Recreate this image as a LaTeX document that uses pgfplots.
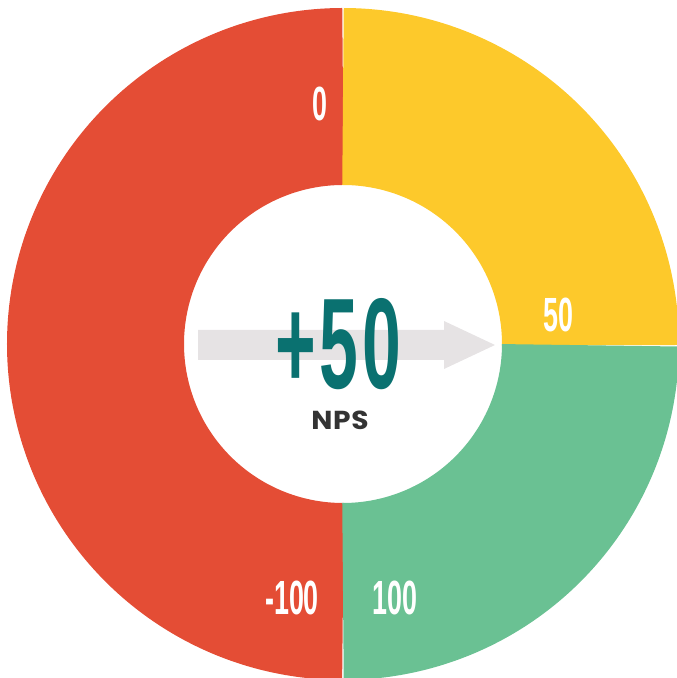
\documentclass[border=0pt]{standalone}
\usepackage{pgfplots}
\pgfplotsset{compat=1.18}
\usepackage{pgfplotstable}
\usepackage{fontspec}
\setmainfont{Liberation Sans}
\newfontfamily\condb[FakeStretch=0.56]{Liberation Sans Bold}
\newfontfamily\condbig[FakeStretch=0.54,LetterSpace=3]{Liberation Sans Bold}
\newfontfamily\npsfont[LetterSpace=3,FakeStretch=1.08]{Poppins Bold}
\definecolor{npsred}{HTML}{E44D35}
\definecolor{npsyellow}{HTML}{FDC92B}
\definecolor{npsgreen}{HTML}{6AC193}
\definecolor{npsteal}{HTML}{0A7170}
\definecolor{arrowgrey}{HTML}{E6E3E4}
\definecolor{npsdark}{HTML}{333333}
% segments: red 50%, yellow 25%, green 25% (angles in degrees)
\pgfplotstableread{
seg start end
red 90 270
yellow -0.3 90
green 270 359.7
}\segments
\begin{document}
\begin{tikzpicture}
\begin{axis}[
  scale only axis,
  width=677bp, height=678bp,
  xmin=-343, xmax=334, ymin=-334, ymax=344,
  hide axis, clip=true,
]
\coordinate (SW) at (axis cs:-343,-334);
\coordinate (NE) at (axis cs:334,344);
% ring: mid radius 247.5, thickness 177
\addplot[npsred, line width=177bp, domain=90:270, samples=181, line cap=butt] ({247.5*cos(x)},{247.5*sin(x)});
\addplot[npsyellow, line width=177bp, domain=-0.3:90, samples=91, line cap=butt] ({247.5*cos(x)},{247.5*sin(x)});
\addplot[npsgreen, line width=177bp, domain=270:359.7, samples=91, line cap=butt] ({247.5*cos(x)},{247.5*sin(x)});
% arrow
\addplot[fill=arrowgrey, draw=none] coordinates {(-145,14) (101,14) (101,23) (152,-1) (101,-25) (101,-16) (-145,-16)} --cycle;
% labels
\node[white, inner sep=0, font=\condb\fontsize{48bp}{50bp}\selectfont] at (axis cs:-23.5,240) {0};
\node[white, inner sep=0, font=\condb\fontsize{48bp}{50bp}\selectfont] at (axis cs:215.5,29.5) {50};
\node[white, inner sep=0, font=\condb\fontsize{48bp}{50bp}\selectfont] at (axis cs:-51,-253.5) {-100};
\node[white, inner sep=0, font=\condb\fontsize{48bp}{50bp}\selectfont] at (axis cs:52,-253.5) {100};
\node[npsteal, inner sep=0, font=\condbig\fontsize{129bp}{130bp}\selectfont] at (axis cs:-5,0) {+50};
\node[npsdark, inner sep=0, font=\npsfont\fontsize{26bp}{28bp}\selectfont] at (axis cs:-3,-76) {NPS};
\end{axis}
\pgfresetboundingbox
\path (SW) rectangle (NE);
\end{tikzpicture}
\end{document}
